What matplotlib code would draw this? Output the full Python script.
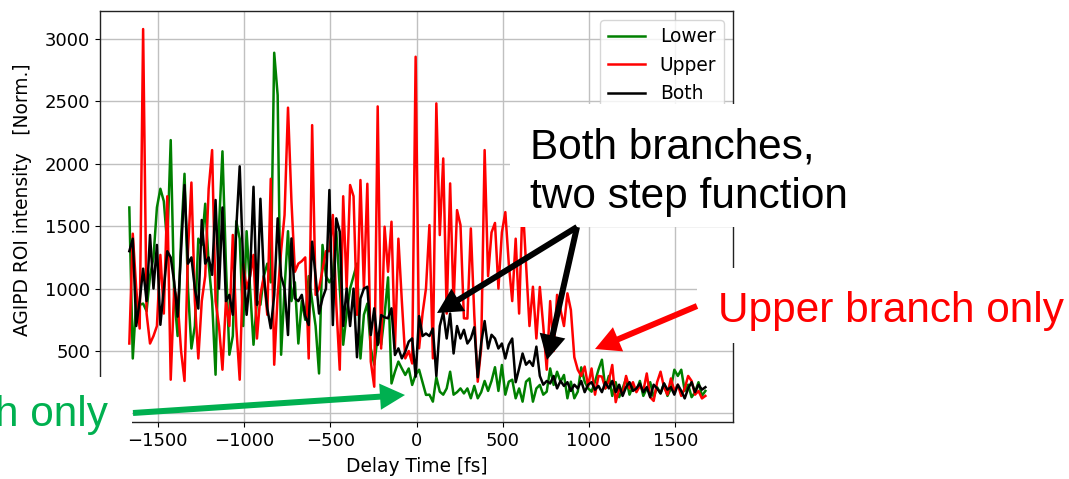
import numpy as np
import matplotlib
matplotlib.use("Agg")
import matplotlib.pyplot as plt
from matplotlib.patches import Rectangle, FancyArrowPatch

W, H = 1069, 479

# delay scan, 20 fs steps
delay_fs = np.arange(-1665, 1680, 20)

lower = [1650, 440, 900, 870, 880, 820, 1100, 1250, 1650, 1800,
         1700, 1350, 2190, 950, 620, 1400, 1920, 1000, 520, 700,
         1400, 1350, 1680, 1200, 900, 310, 1500, 2100, 1200, 470,
         620, 1540, 1400, 700, 1460, 1000, 550, 900, 870, 1100,
         1200, 1050, 2890, 2550, 470, 1000, 1460, 900, 1050, 560,
         900, 750, 1100, 900, 700, 320, 1350, 1100, 1050, 1100,
         1460, 1000, 550, 800, 1000, 1100, 1200, 440, 790, 880,
         520, 390, 620, 550, 790, 1090, 240, 334, 415, 360,
         308, 360, 228, 310, 350, 250, 148, 150, 94, 290,
         174, 150, 200, 334, 150, 170, 200, 160, 200, 121,
         220, 121, 170, 260, 180, 260, 370, 180, 388, 150,
         254, 270, 121, 200, 94, 254, 280, 94, 200, 228,
         150, 174, 360, 228, 334, 254, 308, 121, 254, 121,
         174, 369, 254, 200, 174, 254, 350, 430, 200, 300,
         140, 250, 130, 200, 280, 150, 220, 180, 260, 140,
         200, 250, 130, 210, 160, 240, 140, 200, 350, 300,
         350, 180, 230, 130, 170, 250, 140, 180]

upper = [560, 1440, 1000, 680, 3080, 800, 560, 620, 700, 1270,
         800, 1740, 270, 1000, 900, 500, 260, 1300, 1850, 900,
         440, 900, 1100, 1800, 2110, 900, 700, 350, 900, 700,
         1430, 700, 270, 1200, 1000, 1100, 1270, 600, 950, 1100,
         790, 1880, 390, 950, 1300, 1590, 2450, 1700, 1135, 1200,
         1220, 1250, 440, 2310, 950, 1000, 1150, 1300, 1300, 1590,
         870, 350, 1740, 1000, 1830, 1740, 790, 1870, 1000, 1840,
         415, 214, 2460, 520, 1496, 1135, 1536, 521, 1400, 900,
         441, 500, 400, 2858, 521, 800, 1002, 1509, 441, 2484,
         1429, 2043, 800, 1843, 870, 1629, 1509, 762, 760, 1482,
         788, 254, 521, 2110, 1100, 1450, 1526, 1000, 1450, 1613,
         1200, 900, 1400, 800, 1700, 1200, 700, 1015, 600, 1013,
         700, 350, 900, 500, 950, 830, 700, 962, 829, 450,
         350, 300, 375, 220, 360, 150, 300, 295, 200, 260,
         388, 90, 200, 150, 300, 200, 250, 170, 220, 180,
         320, 130, 100, 250, 334, 210, 150, 280, 180, 230,
         140, 200, 300, 260, 150, 180, 120, 140]

both = [1300, 1400, 700, 900, 1160, 900, 1430, 1000, 1350, 710,
        1000, 1300, 1250, 1055, 775, 1300, 1830, 1200, 1250, 1000,
        840, 1550, 1200, 1250, 1110, 1710, 1000, 1650, 900, 950,
        790, 1480, 1980, 1200, 790, 1110, 1816, 870, 1720, 1100,
        842, 682, 948, 1563, 1100, 1000, 628, 1402, 922, 900,
        950, 780, 708, 1376, 1100, 800, 922, 1000, 1790, 708,
        1563, 1456, 700, 1000, 700, 1000, 450, 920, 1000, 1015,
        628, 842, 548, 788, 770, 762, 842, 468, 521, 441,
        495, 575, 601, 294, 780, 620, 640, 620, 680, 300,
        700, 810, 600, 800, 480, 700, 600, 670, 560, 600,
        690, 290, 560, 740, 520, 630, 600, 520, 560, 440,
        550, 600, 250, 360, 480, 390, 420, 380, 535, 300,
        230, 260, 240, 300, 200, 260, 220, 250, 180, 230,
        200, 260, 170, 230, 250, 190, 220, 170, 250, 200,
        260, 170, 230, 140, 210, 250, 180, 200, 240, 170,
        210, 130, 230, 200, 160, 240, 190, 210, 150, 230,
        180, 120, 200, 250, 170, 230, 190, 210]

xticks = [-1500, -1000, -500, 0, 500, 1000, 1500]
yticks = [0, 500, 1000, 1500, 2000, 2500, 3000]
# the zero label sits under the green text box, so it is left blank
ytick_labels = ['', '500', '1000', '1500', '2000', '2500', '3000']


def fxy(px, py):
    # pixel position (top-left origin) -> figure fraction
    return px / W, 1 - py / H


fig = plt.figure(figsize=(W / 100, H / 100), dpi=100)
ax = fig.add_axes([100 / W, 1 - 422 / H, 633 / W, 411.3 / H])

ax.plot(delay_fs, lower, '-', color='green', lw=1.8, label='Lower')
ax.plot(delay_fs, upper, '-', color='red', lw=1.8, label='Upper')
ax.plot(delay_fs, both, '-', color='black', lw=1.8, label='Both')

ax.set_xlim(-1835, 1835)
ax.set_ylim(-69, 3227)
ax.set_xticks(xticks)
ax.set_yticks(yticks)
ax.set_yticklabels(ytick_labels)
ax.tick_params(labelsize=13)
ax.grid(True, color='#c0c0c0', lw=1.0)
ax.set_xlabel("Delay Time [fs]", fontsize=13.4, labelpad=5)
for s in ax.spines.values():
    s.set_linewidth(1.0)
    s.set_color('#222222')
ax.legend(loc='upper right', fontsize=13.4)

fig.text(*fxy(23, 200), "AGIPD ROI intensity   [Norm.]", rotation=90,
         ha='center', va='center', fontsize=13.4)

# white text boxes laid over the plot
masks = [(510, 104, 880, 227), (697, 268, 1069, 343),
         (0, 377, 132, 428), (33.5, 25, 43.5, 110)]
for x0, y0, x1, y1 in masks:
    fig.add_artist(Rectangle(fxy(x0, y1), (x1 - x0) / W, (y1 - y0) / H,
                             transform=fig.transFigure, facecolor='white',
                             edgecolor='none', zorder=3))

afont = dict(family='Liberation Sans', fontsize=30.5, zorder=5)
fig.text(*fxy(530, 158.3), "Both branches,", color='black', va='baseline', **afont)
fig.text(*fxy(530, 208.3), "two step function", color='black', va='baseline', **afont)
fig.text(*fxy(718, 321.7), "Upper branch only", color='red', va='baseline', **afont)
fig.text(*fxy(108.5, 426), "Lower branch only", color='#00B050', va='baseline',
         ha='right', **afont)

arrows = [((577, 227), (437, 313), 'black'),
          ((577, 227), (547, 360), 'black'),
          ((697, 306), (595, 349), 'red'),
          ((133, 413), (405, 395), '#00B050')]
style = 'simple,head_length=1.0,head_width=1.05,tail_width=0.24'
for (ax0, ay0), (ax1, ay1), c in arrows:
    fig.add_artist(FancyArrowPatch(fxy(ax0, ay0), fxy(ax1, ay1),
                                   transform=fig.transFigure, arrowstyle=style,
                                   mutation_scale=18, color=c, lw=0,
                                   shrinkA=0, shrinkB=0, zorder=5))

fig.savefig("out.png", dpi=100)
